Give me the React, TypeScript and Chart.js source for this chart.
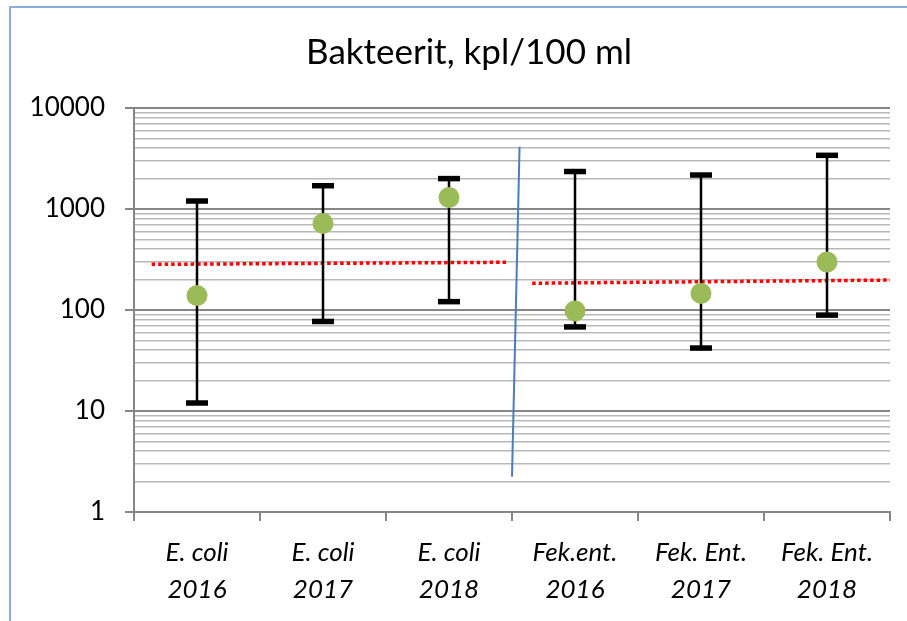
import React, { useEffect, useRef } from 'react';
import { Chart, registerables } from 'chart.js';

Chart.register(...registerables);

// ---- data ----
const TITLE = 'Bakteerit, kpl/100 ml';
const CATEGORIES: string[][] = [
  ['E. coli', '2016'],
  ['E. coli', '2017'],
  ['E. coli', '2018'],
  ['Fek.ent.', '2016'],
  ['Fek. Ent.', '2017'],
  ['Fek. Ent.', '2018'],
];
const MEANS = [139, 720, 1300, 98, 146, 299];
const MINS = [12, 77, 121, 68, 42, 89];
const MAXS = [1200, 1700, 2000, 2350, 2170, 3400];

// red dotted trend lines (x in category-index units)
const TREND_ECOLI_X = [-0.36, 2.47];
const TREND_ECOLI_Y = [283, 297];
const TREND_FEK_X = [2.66, 5.5];
const TREND_FEK_Y = [184, 198];

// blue divider line
const DIVIDER_X = [2.56, 2.5];
const DIVIDER_Y = [4140, 2.24];

// log axis ticks
const Y_DECADES = [1, 10, 100, 1000];
const Y_STEPS = [1, 2, 3, 4, 5, 6, 7, 8, 9];
const Y_MIN = 1;
const Y_MAX = 10000;
const Y_LABELS = ['1', '10', '100', '1000', '10000'];

const FONT = 'Lato, "Open Sans", "DejaVu Sans", sans-serif';
const MAJOR_GRID = '#868686';
const MINOR_GRID = '#b8b8b8';

const isDecade = (v: number) => Y_LABELS.includes(String(v));

// shifts the title's box so it is centred like the reference (over the area right of the frame's label column)
const titleShift = {
  id: 'titleShift',
  afterLayout(chart: any) {
    const t = chart.titleBlock;
    if (t) t.left += 48;
  },
};

export default function App() {
  const canvasRef = useRef<HTMLCanvasElement | null>(null);

  useEffect(() => {
    const canvas = canvasRef.current;
    if (!canvas) return;

    const whiskerData: any[] = [];
    CATEGORIES.forEach((_, i) => {
      whiskerData.push({ x: i, y: MINS[i] });
      whiskerData.push({ x: i, y: MAXS[i] });
      whiskerData.push({ x: i, y: null });
    });
    const capData: any[] = [];
    CATEGORIES.forEach((_, i) => {
      capData.push({ x: i, y: MINS[i] });
      capData.push({ x: i, y: MAXS[i] });
    });

    const chart = new Chart(canvas, {
      type: 'line',
      plugins: [titleShift],
      data: {
        datasets: [
          {
            label: 'mean',
            data: MEANS.map((v, i) => ({ x: i, y: v })),
            xAxisID: 'x2',
            yAxisID: 'y',
            showLine: false,
            pointRadius: 10.5,
            pointBackgroundColor: '#9bbb59',
            pointBorderColor: '#9bbb59',
            pointBorderWidth: 0,
          },
          {
            label: 'caps',
            data: capData,
            xAxisID: 'x2',
            yAxisID: 'y',
            showLine: false,
            pointStyle: 'line',
            pointRadius: 11,
            pointBorderColor: '#000000',
            pointBorderWidth: 5.5,
          },
          {
            label: 'whiskers',
            data: whiskerData,
            xAxisID: 'x2',
            yAxisID: 'y',
            showLine: true,
            spanGaps: false,
            borderColor: '#000000',
            borderWidth: 2.5,
            pointRadius: 0,
          },
          {
            label: 'trend E. coli',
            data: TREND_ECOLI_X.map((x, i) => ({ x, y: TREND_ECOLI_Y[i] })),
            xAxisID: 'x2',
            yAxisID: 'y',
            borderColor: '#ff0000',
            borderWidth: 3.5,
            borderDash: [3.5, 3],
            pointRadius: 0,
          },
          {
            label: 'trend Fek',
            data: TREND_FEK_X.map((x, i) => ({ x, y: TREND_FEK_Y[i] })),
            xAxisID: 'x2',
            yAxisID: 'y',
            borderColor: '#ff0000',
            borderWidth: 3.5,
            borderDash: [3.5, 3],
            pointRadius: 0,
          },
          {
            label: 'divider',
            data: DIVIDER_X.map((x, i) => ({ x, y: DIVIDER_Y[i] })),
            xAxisID: 'x2',
            yAxisID: 'y',
            borderColor: '#4a7ebb',
            borderWidth: 2,
            pointRadius: 0,
          },
        ],
      },
      options: {
        animation: false,
        responsive: false,
        devicePixelRatio: 1,
        layout: { padding: { top: 0, left: 0, right: 17, bottom: 0 } },
        plugins: {
          legend: { display: false },
          tooltip: { enabled: false },
          title: {
            display: true,
            text: TITLE,
            color: '#000000',
            font: { family: FONT, size: 35, weight: 'normal' },
            padding: { top: 32, bottom: 34 },
          },
        },
        scales: {
          x: {
            type: 'category',
            labels: CATEGORIES as any,
            offset: true,
            position: 'bottom',
            afterFit: (scale: any) => {
              scale.height = 109;
            },
            grid: {
              offset: true,
              drawOnChartArea: false,
              drawTicks: true,
              tickLength: 9,
              color: MAJOR_GRID,
              lineWidth: 2,
            },
            border: { display: true, color: MAJOR_GRID, width: 2 },
            ticks: {
              color: '#000000',
              autoSkip: false,
              maxRotation: 0,
              padding: 13,
              font: { family: FONT, size: 26, style: 'italic', lineHeight: 1.42 },
            },
          },
          x2: {
            type: 'linear',
            display: false,
            min: -0.5,
            max: 5.5,
          },
          y: {
            type: 'logarithmic',
            min: Y_MIN,
            max: Y_MAX,
            position: 'left',
            afterFit: (scale: any) => {
              scale.width = 134;
            },
            afterBuildTicks: (scale: any) => {
              const t: any[] = [];
              Y_DECADES.forEach((d) => Y_STEPS.forEach((s) => t.push({ value: d * s, major: s === 1 })));
              t.push({ value: Y_MAX, major: true });
              scale.ticks = t;
            },
            grid: {
              color: (ctx: any) => (isDecade(ctx.tick.value) ? MAJOR_GRID : MINOR_GRID),
              lineWidth: (ctx: any) => (isDecade(ctx.tick.value) ? 2 : 1.6),
              tickColor: (ctx: any) => (isDecade(ctx.tick.value) ? MAJOR_GRID : 'rgba(0,0,0,0)'),
              tickWidth: 2,
              tickLength: 9,
              drawTicks: true,
            },
            border: { display: true, color: MAJOR_GRID, width: 2 },
            ticks: {
              autoSkip: false,
              color: '#000000',
              padding: 20,
              font: { family: FONT, size: 26 },
              callback: (value: any) => (isDecade(Number(value)) ? String(value) : ''),
            },
          },
        },
      } as any,
    });

    return () => {
      chart.destroy();
    };
  }, []);

  return (
    <div
      style={{
        position: 'absolute',
        left: 0,
        top: 0,
        width: 907,
        height: 621,
        overflow: 'hidden',
        background: '#ffffff',
      }}
    >
      <canvas ref={canvasRef} width={907} height={621} style={{ display: 'block', width: 907, height: 621 }} />
      <div
        style={{
          position: 'absolute',
          left: 9,
          top: 6,
          width: 1000,
          height: 1000,
          borderLeft: '2px solid #8eaadb',
          borderTop: '2px solid #8eaadb',
          pointerEvents: 'none',
        }}
      />
    </div>
  );
}
